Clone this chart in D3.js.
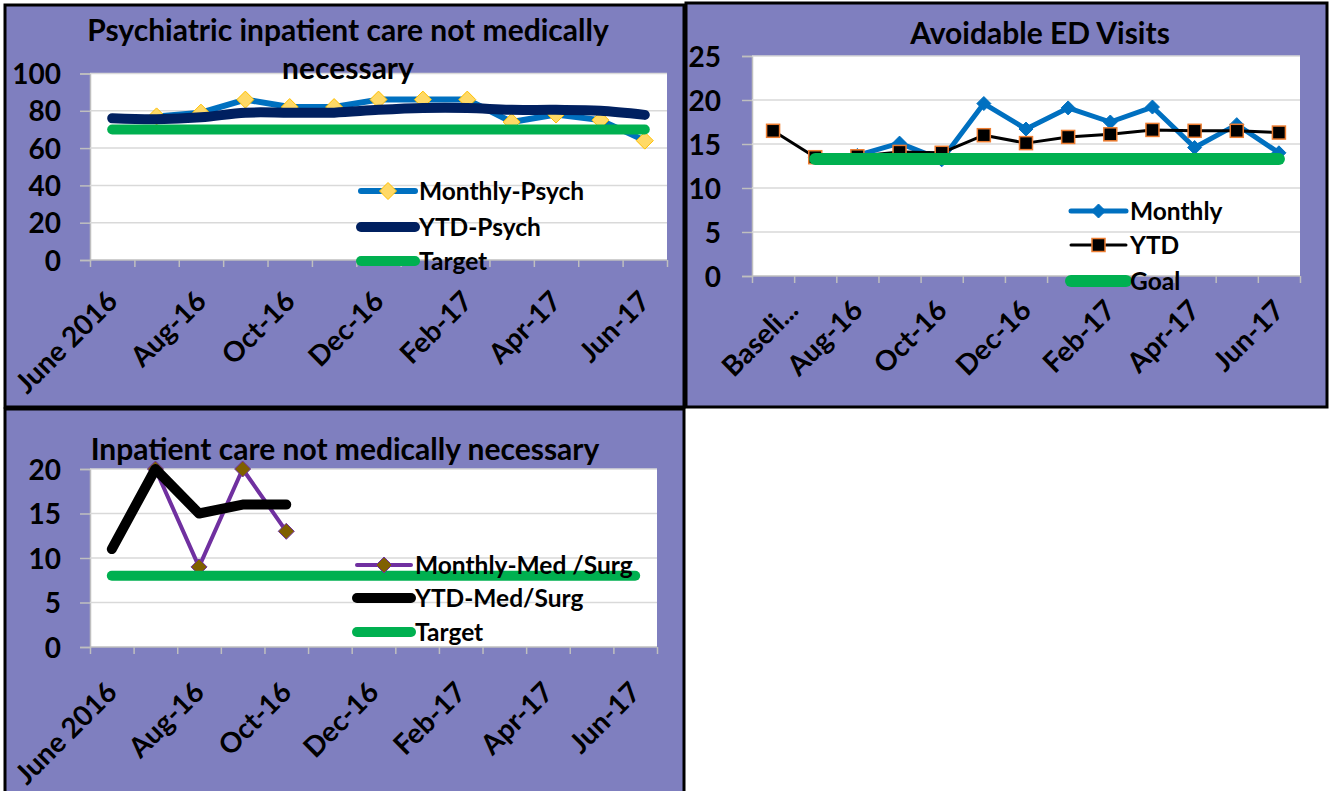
<!DOCTYPE html>
<html><head><meta charset="utf-8">
<script src="https://cdn.jsdelivr.net/npm/d3@7/dist/d3.min.js"></script>
<style>
body{margin:0;background:#fff;}
svg text{font-family:Lato,"Open Sans",sans-serif;font-weight:bold;fill:#000;}
</style>
</head><body>
<svg id="c" width="1329" height="791"></svg>
<script>
// ---------- DATA ----------
const psychCats = ["June 2016","Jul-16","Aug-16","Sep-16","Oct-16","Nov-16","Dec-16","Jan-17","Feb-17","Mar-17","Apr-17","May-17","Jun-17"];
const psychMonthly = [null,77,79,86,82,82,86,86,86,74,78,75,64];
const psychYTD = [76,75.5,76.5,79,79,79,80.5,81.5,81.5,80.5,80.5,80,77.8];
const psychTarget = [70,70,70,70,70,70,70,70,70,70,70,70,70];
const psychYTicks = [0,20,40,60,80,100];

const edCats = ["Baseline","Jul-16","Aug-16","Sep-16","Oct-16","Nov-16","Dec-16","Jan-17","Feb-17","Mar-17","Apr-17","May-17","Jun-17"];
const edMonthly = [null,13.5,13.7,15.1,13.2,19.6,16.7,19.1,17.5,19.2,14.6,17.2,14.0];
const edYTD = [16.5,13.5,13.6,14.1,14.0,16.0,15.1,15.8,16.1,16.6,16.5,16.5,16.3];
const edGoal = [null,13.3,13.3,13.3,13.3,13.3,13.3,13.3,13.3,13.3,13.3,13.3,13.3];
const edYTicks = [0,5,10,15,20,25];

const msCats = ["June 2016","Jul-16","Aug-16","Sep-16","Oct-16","Nov-16","Dec-16","Jan-17","Feb-17","Mar-17","Apr-17","May-17","Jun-17"];
const msMonthly = [null,20,9,20,13,null,null,null,null,null,null,null,null];
const msYTD = [11,20,15,16,16,null,null,null,null,null,null,null,null];
const msTarget = [8,8,8,8,8,8,8,8,8,8,8,8,8];
const msYTicks = [0,5,10,15,20];

const xLabelIdx = [0,2,4,6,8,10,12];
const labelShort = {"Baseline":"Baseli..."};

// ---------- DRAW ----------
const svg = d3.select("#c");
const BG = "#7F7FBF";

function marker(g, type, x, y, st){
  const r = st.size/2;
  if(type==="diamond"){
    g.append("path").attr("d",`M${x},${y-r}L${x+r},${y}L${x},${y+r}L${x-r},${y}Z`)
      .attr("fill",st.fill).attr("stroke",st.stroke).attr("stroke-width",st.sw||1);
  } else if(type==="square"){
    g.append("rect").attr("x",x-r).attr("y",y-r).attr("width",st.size).attr("height",st.size)
      .attr("fill",st.fill).attr("stroke",st.stroke).attr("stroke-width",st.sw||1);
  }
}

function panel(o){
  const g = svg.append("g");
  g.append("rect").attr("x",o.box[0]).attr("y",o.box[1]).attr("width",o.box[2]-o.box[0]).attr("height",o.box[3]-o.box[1])
    .attr("fill",BG).attr("stroke","#000").attr("stroke-width",3);
  const [L,T,R,B] = o.plot;
  g.append("rect").attr("x",L).attr("y",T).attr("width",R-L).attr("height",B-T).attr("fill","#fff");
  const n = o.cats.length;
  const xb = d3.scaleBand().domain(d3.range(n)).range([L,R]).padding(0);
  const cx = i => xb(i) + xb.bandwidth()/2;
  const y = d3.scaleLinear().domain([0,o.ymax]).range([B,T]);
  // y axis
  const yAxis = d3.axisLeft(y).tickValues(o.yticks).tickSize(10).tickFormat(d3.format("d"));
  const ya = g.append("g").attr("transform",`translate(${L},0)`).call(yAxis);
  ya.select(".domain").attr("stroke","#BFBFBF").attr("stroke-width",1.5);
  ya.selectAll(".tick line").attr("stroke","#BFBFBF").attr("stroke-width",1.5);
  ya.selectAll(".tick text").attr("x",o.ylabRight - L).attr("font-size",o.yfs).attr("dy","0.36em")
    .attr("fill","#000").attr("font-family","Lato").attr("font-weight","bold");
  // gridlines
  g.append("g").selectAll("line").data(o.yticks.filter(v=>v>0)).join("line")
    .attr("x1",L).attr("x2",R).attr("y1",d=>y(d)).attr("y2",d=>y(d))
    .attr("stroke","#D9D9D9").attr("stroke-width",1.5);
  // x axis with category boundary ticks
  const xl = d3.scaleLinear().domain([0,n]).range([L,R]);
  const xAxis = d3.axisBottom(xl).tickValues(d3.range(n+1)).tickSize(7).tickFormat("");
  const xa = g.append("g").attr("transform",`translate(0,${B})`).call(xAxis);
  xa.select(".domain").attr("stroke","#BFBFBF").attr("stroke-width",1.5).attr("d",`M${L},0H${R}`);
  xa.selectAll(".tick line").attr("stroke","#BFBFBF").attr("stroke-width",1.5);
  // x labels
  g.append("g").selectAll("text").data(xLabelIdx).join("text")
    .attr("text-anchor","end").attr("font-size",o.xfs)
    .attr("transform",i=>`translate(${cx(i)+o.xlab[0]+(labelShort[o.cats[i]]?o.shortDx:0)},${B+o.xlab[1]}) rotate(-45)`)
    .text(i=>labelShort[o.cats[i]]||o.cats[i]);
  // title
  o.title.forEach(t=>{
    g.append("text").attr("x",t[1]).attr("y",t[2]).attr("text-anchor","middle").attr("font-size",o.tfs).text(t[0]);
  });
  // series
  o.series.forEach(s=>{
    const line = d3.line().defined(d=>d!=null).x((d,i)=>cx(i)).y(d=>y(d)).curve(s.curve||d3.curveLinear);
    g.append("path").datum(s.data).attr("d",line).attr("fill","none").attr("stroke",s.color)
      .attr("stroke-width",s.width).attr("stroke-linecap","round").attr("stroke-linejoin","round");
    if(s.marker){
      s.data.forEach((d,i)=>{ if(d!=null) marker(g,s.marker,cx(i),y(d),s.mst); });
    }
  });
  // legend
  o.series.forEach((s,k)=>{
    const ly = o.legend.y[k];
    const lx = o.legend.x;
    g.append("line").attr("x1",lx).attr("x2",lx+o.legend.w).attr("y1",ly).attr("y2",ly)
      .attr("stroke",s.color).attr("stroke-width",s.width).attr("stroke-linecap","round");
    if(s.marker) marker(g,s.marker,lx+o.legend.w/2,ly,s.mst);
    g.append("text").attr("x",lx+o.legend.w+4).attr("y",ly).attr("dy","0.36em").attr("font-size",o.lfs).text(s.name);
  });
}

panel({
  box:[5,5,684,407], plot:[90,73.5,667,260], ymax:100, yticks:psychYTicks, ylabRight:61, yfs:28,
  cats:psychCats, xfs:28, xlab:[7,43], shortDx:0,
  title:[["Psychiatric inpatient care not medically",348,41],["necessary",348,79]], tfs:30,
  series:[
    {name:"Monthly-Psych", data:psychMonthly, color:"#0070C0", width:6, marker:"diamond", mst:{size:17,fill:"#FFD966",stroke:"#FFC000",sw:1}},
    {name:"YTD-Psych", data:psychYTD, color:"#002060", width:10, curve:d3.curveCatmullRom.alpha(0.5)},
    {name:"Target", data:psychTarget, color:"#00B050", width:10}
  ],
  legend:{x:361, w:54, y:[191,227,261]}, lfs:24.5
});

panel({
  box:[686,3,1327,407], plot:[752,56,1300,276], ymax:25, yticks:edYTicks, ylabRight:721, yfs:28,
  cats:edCats, xfs:28, xlab:[7,36], shortDx:20,
  title:[["Avoidable ED Visits",1040,44]], tfs:30,
  series:[
    {name:"Monthly", data:edMonthly, color:"#0070C0", width:5, marker:"diamond", mst:{size:14,fill:"#0070C0",stroke:"#0070C0",sw:1}},
    {name:"YTD", data:edYTD, color:"#000000", width:3, marker:"square", mst:{size:13,fill:"#000",stroke:"#ED7D31",sw:1.5}},
    {name:"Goal", data:edGoal, color:"#00B050", width:12}
  ],
  legend:{x:1071, w:55, y:[211,245,281]}, lfs:24.5
});

panel({
  box:[5,409,684,793], plot:[90,469,657,647], ymax:20, yticks:msYTicks, ylabRight:61, yfs:28,
  cats:msCats, xfs:28, xlab:[7,47], shortDx:0,
  title:[["Inpatient care not medically necessary",345,460]], tfs:30,
  series:[
    {name:"Monthly-Med /Surg", data:msMonthly, color:"#7030A0", width:4, marker:"diamond", mst:{size:16,fill:"#7F6000",stroke:"#7030A0",sw:1}},
    {name:"YTD-Med/Surg", data:msYTD, color:"#000000", width:10},
    {name:"Target", data:msTarget, color:"#00B050", width:10}
  ],
  legend:{x:357, w:54, y:[565,598,632]}, lfs:24.5
});
</script>
</body></html>
